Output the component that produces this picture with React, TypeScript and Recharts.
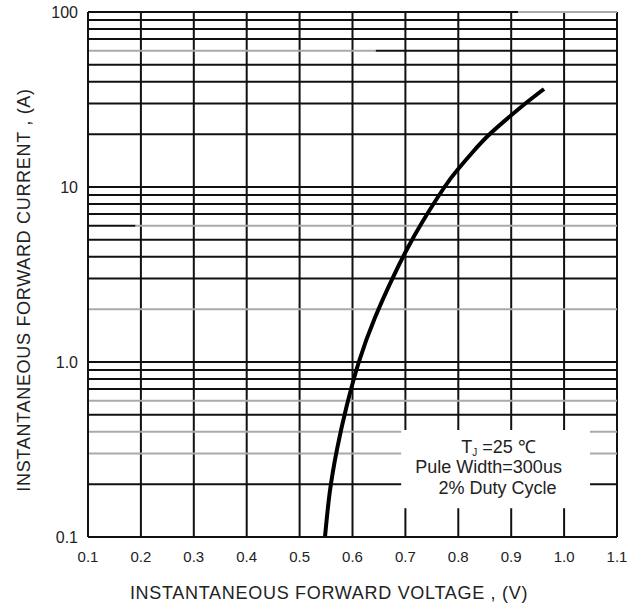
import { LineChart, Line, XAxis, YAxis, ReferenceLine, ReferenceArea } from "recharts";

// forward characteristic (V, A)
const voltage = [0.548, 0.557, 0.571, 0.589, 0.612, 0.642, 0.679, 0.704, 0.732, 0.774, 0.799, 0.827, 0.859, 0.896, 0.928, 0.962];
const current = [0.1, 0.18, 0.32, 0.56, 1.0, 1.78, 3.16, 4.47, 6.31, 10, 12.6, 15.8, 20, 25.1, 30.2, 36.3];

const xTicks = [0.1, 0.2, 0.3, 0.4, 0.5, 0.6, 0.7, 0.8, 0.9, 1.0, 1.1];
const yTicks = [0.1, 1, 10, 100];
const yTickLabels = ["0.1", "1.0", "10", "100"];

// log grid levels
const blackLevels = [0.2, 0.5, 0.7, 0.8, 0.9, 1, 3, 4, 5, 7, 8, 9, 10, 20, 30, 40, 50, 70, 80, 90];
const grayLevels = [0.3, 0.4, 0.6, 2];
const grayThenBlack = [{ level: 60, at: 0.644 }];
const blackThenGray = [{ level: 6, at: 0.19 }, { level: 100, at: 0.913 }];

const noteLines = ["Pule Width=300us", "2% Duty Cycle"];

const data = voltage.map((v, idx) => ({ v, i: current[idx] }));

const INK = "#111";
const GRAY = "#aaa";
const FONT = "'Liberation Sans', Arial, sans-serif";

function XTitle() {
  return (
    <text x={329} y={599} textAnchor="middle" fontSize={18} letterSpacing={0.7} fill="#222" fontFamily={FONT}>
      INSTANTANEOUS FORWARD VOLTAGE , (V)
    </text>
  );
}

function YTitle() {
  return (
    <text
      transform="translate(24,290) rotate(-90)"
      textAnchor="middle"
      dominantBaseline="central"
      fontSize={18}
      letterSpacing={0.7}
      fill="#222"
      fontFamily={FONT}
    >
      INSTANTANEOUS FORWARD CURRENT , (A)
    </text>
  );
}

function Note(props: any) {
  const { x, y, width } = props.viewBox;
  const cx = x + width / 2;
  return (
    <g fontFamily={FONT} fontSize={18} fill="#222">
      <text x={cx + 3} y={y + 23} textAnchor="middle">
        T<tspan fontSize={10} dy={3}>J</tspan>
        <tspan dy={-3}> =25 ℃</tspan>
      </text>
      <text x={cx - 7} y={y + 43} textAnchor="middle">{noteLines[0]}</text>
      <text x={cx + 2} y={y + 64} textAnchor="middle">{noteLines[1]}</text>
    </g>
  );
}

export default function App() {
  return (
    <div style={{ position: "absolute", left: 0, top: 0, background: "#fff" }}>
      <LineChart width={636} height={608} data={data} margin={{ top: 12, right: 19, left: 0, bottom: 0 }}>
        <XAxis
          dataKey="v"
          type="number"
          domain={[0.1, 1.1]}
          ticks={xTicks}
          tickFormatter={(t: number) => t.toFixed(1)}
          height={71}
          tickLine={false}
          tickSize={0}
          tickMargin={14}
          axisLine={{ stroke: INK, strokeWidth: 2 }}
          tick={{ fontSize: 15, fill: "#222", fontFamily: FONT }}
          label={{ content: <XTitle /> }}
        />
        <YAxis
          type="number"
          scale="log"
          domain={[0.1, 100]}
          allowDataOverflow
          ticks={yTicks}
          tickFormatter={(t: number) => yTickLabels[yTicks.indexOf(t)]}
          width={88}
          tickLine={false}
          tickSize={0}
          tickMargin={10}
          axisLine={{ stroke: INK, strokeWidth: 2 }}
          tick={{ fontSize: 16, fill: "#222", fontFamily: FONT }}
          label={{ content: <YTitle /> }}
        />
        {xTicks.slice(1).map((t) => (
          <ReferenceLine key={`vx${t}`} x={t} stroke={INK} strokeWidth={2} />
        ))}
        {blackLevels.map((l) => (
          <ReferenceLine key={`b${l}`} y={l} stroke={INK} strokeWidth={2} />
        ))}
        {grayLevels.map((l) => (
          <ReferenceLine key={`g${l}`} y={l} stroke={GRAY} strokeWidth={2} />
        ))}
        {grayThenBlack.map((s) => (
          <ReferenceLine key={`gb${s.level}a`} segment={[{ x: 0.1, y: s.level }, { x: s.at, y: s.level }]} stroke={GRAY} strokeWidth={2} />
        ))}
        {grayThenBlack.map((s) => (
          <ReferenceLine key={`gb${s.level}b`} segment={[{ x: s.at, y: s.level }, { x: 1.1, y: s.level }]} stroke={INK} strokeWidth={2} />
        ))}
        {blackThenGray.map((s) => (
          <ReferenceLine key={`bg${s.level}a`} segment={[{ x: 0.1, y: s.level }, { x: s.at, y: s.level }]} stroke={INK} strokeWidth={2} />
        ))}
        {blackThenGray.map((s) => (
          <ReferenceLine key={`bg${s.level}b`} segment={[{ x: s.at, y: s.level }, { x: 1.1, y: s.level }]} stroke={GRAY} strokeWidth={2} />
        ))}
        <ReferenceArea
          x1={0.692}
          x2={1.049}
          y1={0.146}
          y2={0.409}
          fill="#fff"
          fillOpacity={1}
          stroke="none"
          zIndex={900}
          label={<Note />}
        />
        <Line
          dataKey="i"
          type="natural"
          stroke="#000"
          strokeWidth={4}
          dot={false}
          isAnimationActive={false}
        />
      </LineChart>
    </div>
  );
}
